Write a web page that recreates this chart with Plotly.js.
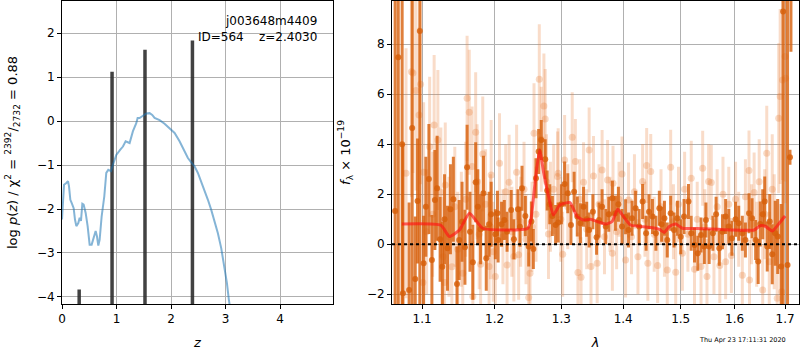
<!DOCTYPE html>
<html>
<head>
<meta charset="utf-8">
<script src="https://cdn.plot.ly/plotly-3.0.1.min.js"></script>
<style>html,body{margin:0;padding:0;background:#fff;}#chart{width:800px;height:350px;}</style>
</head>
<body>
<div id="chart"></div>
<script>
// ---------- Left panel: log p(z) ----------
const zGrid = [0.0,0.037,0.079,0.110,0.128,0.153,0.177,0.214,0.238,0.263,0.299,0.324,0.348,0.373,0.397,0.434,0.470,0.507,0.544,0.580,0.617,0.641,0.666,0.690,0.727,0.776,0.812,0.849,0.898,0.935,0.996,1.069,1.118,1.167,1.203,1.240,1.301,1.362,1.387,1.423,1.484,1.546,1.607,1.655,1.698,1.790,1.881,1.973,2.065,2.156,2.248,2.309,2.370,2.431,2.492,2.553,2.615,2.676,2.737,2.798,2.859,2.920,2.981,3.024,3.060,3.073];
const logP = [-2.24,-1.45,-1.41,-1.37,-1.48,-1.79,-1.86,-1.98,-2.24,-2.39,-2.32,-2.20,-2.27,-1.88,-1.90,-2.09,-2.39,-2.81,-2.81,-2.62,-2.50,-2.62,-2.83,-2.70,-2.17,-1.71,-1.18,-1.11,-1.14,-0.99,-0.77,-0.65,-0.58,-0.46,-0.48,-0.50,-0.23,-0.05,0.07,0.07,0.12,0.17,0.18,0.14,0.07,0.02,-0.06,-0.16,-0.27,-0.46,-0.69,-0.84,-0.94,-1.03,-1.18,-1.37,-1.60,-1.79,-2.02,-2.28,-2.55,-2.89,-3.30,-3.68,-4.06,-4.17];
const peakZ = [0.315, 0.918, 1.522, 2.392];
const peakTop = [-3.83, 1.12, 1.62, 1.83];
const peakFloor = -10;

// ---------- Right panel: spectrum ----------
const darkWave = [1.065,1.069,1.074,1.075,1.083,1.087,1.091,1.094,1.097,
 1.102,1.105,1.109,1.113,1.117,1.120,1.124,1.127,1.130,1.134,1.138,1.142,1.147,1.150,1.154,1.158,1.161,1.165,1.169,1.173,1.176,1.180,1.184,1.188,1.192,1.195,
 1.201,1.204,1.205,1.210,1.214,1.218,1.224,1.228,1.234,1.237,1.240,1.245,1.250,1.254,1.257,1.261,1.265,1.269,1.275,1.278,1.282,1.286,1.291,1.295,
 1.300,1.305,1.310,1.315,1.320,1.325,1.330,1.335,1.340,1.344,1.350,1.356,1.360,1.365,1.371,1.376,1.382,1.387,1.392,1.398,
 1.404,1.409,1.415,1.421,1.427,1.433,1.439,1.444,1.450,1.456,1.462,1.466,1.471,1.476,1.482,1.488,1.494,
 1.500,1.506,1.514,1.519,1.525,1.531,1.537,1.543,1.546,1.552,1.559,1.565,1.571,1.577,1.583,1.589,1.595,
 1.602,1.608,1.615,1.621,1.628,1.634,1.641,1.646,1.650,1.655,1.659,1.664,1.669,1.674,1.680,1.685,1.692,1.696,1.705,1.710,1.712];
const darkFlux = [1.33,7.48,4.00,-1.96,-1.83,4.65,-1.39,1.73,8.53,
 -0.76,1.50,2.61,-0.63,1.77,2.24,0.20,-0.90,1.00,-0.16,1.40,1.80,-1.59,0.17,0.90,-0.12,3.08,0.50,-0.72,2.48,1.50,0.60,2.04,-0.56,0.80,1.20,
 0.40,1.24,0.17,0.80,0.97,0.50,1.37,0.20,1.40,0.70,2.24,1.13,-0.09,0.91,-0.19,2.64,3.71,4.17,3.40,2.15,1.60,1.13,0.77,0.87,
 1.60,2.41,2.04,0.77,2.10,1.11,0.84,1.50,1.00,0.57,1.30,0.28,0.97,1.50,0.71,1.20,1.84,1.24,1.60,0.71,
 1.10,0.57,1.04,1.44,0.71,1.71,0.44,1.30,1.11,0.44,1.44,0.80,1.04,0.17,1.24,0.57,1.04,
 0.30,1.11,1.71,0.44,-0.03,-0.36,0.37,-0.09,0.97,-0.09,0.44,1.20,-0.16,0.50,1.11,0.71,0.24,
 1.00,0.84,0.44,0.17,1.24,1.04,0.17,-0.69,0.81,1.20,1.71,-0.09,0.91,-0.40,0.44,0.31,-0.89,9.31,-0.83,3.48,18.0];
const darkErr = [20,20,8,6,3.5,12,2.5,2.5,12,
 1.9,2.0,2.2,1.8,2.0,2.1,1.7,1.8,1.8,1.7,1.8,1.7,1.5,1.6,1.6,1.5,1.7,1.6,1.5,1.6,1.5,1.4,1.5,1.3,1.3,1.3,
 1.0,0.9,0.9,0.9,0.8,0.8,0.8,0.8,0.8,0.8,0.9,0.8,0.8,0.8,0.8,0.8,0.9,0.8,0.8,0.8,0.8,0.8,0.8,0.8,
 0.8,0.9,0.8,0.8,0.8,0.8,0.8,0.8,0.7,0.7,0.7,0.7,0.7,0.7,0.7,0.7,0.7,0.7,0.7,0.7,
 0.7,0.7,0.7,0.7,0.7,0.7,0.7,0.7,0.7,0.7,0.7,0.7,0.7,0.7,0.7,0.7,0.7,
 0.7,0.7,0.7,0.7,0.7,0.7,0.7,0.7,0.7,0.7,0.7,0.7,0.7,0.7,0.7,0.7,0.7,
 0.7,0.7,0.7,0.7,0.8,0.8,0.8,0.9,0.9,1.0,1.0,1.0,1.1,1.2,1.3,1.5,2.5,20,20,0.3,10.3];

const lightWave = [1.079,1.086,1.088,1.092,1.096,1.098,
 1.101,1.102,1.106,1.110,1.114,1.116,1.121,1.125,1.128,1.130,1.131,1.136,1.140,1.144,1.148,1.153,1.155,1.159,1.161,1.164,1.168,1.169,1.173,1.175,1.178,1.180,1.183,1.187,1.192,1.194,1.195,1.198,
 1.201,1.207,1.212,1.216,1.218,1.221,1.225,1.228,1.232,1.235,1.238,1.243,1.246,1.250,1.252,1.255,1.258,1.261,1.266,1.269,1.273,1.275,1.277,1.280,1.283,1.288,1.294,1.295,1.299,
 1.302,1.305,1.310,1.317,1.322,1.326,1.329,1.331,1.335,1.340,1.344,1.347,1.351,1.357,1.360,1.365,1.369,1.374,1.378,1.382,1.383,1.389,1.393,1.398,
 1.404,1.409,1.414,1.419,1.425,1.433,1.437,1.440,1.442,1.447,1.453,1.459,1.465,1.471,1.476,1.482,1.487,1.491,1.496,
 1.503,1.507,1.513,1.519,1.525,1.530,1.537,1.540,1.544,1.548,1.551,1.556,1.561,1.567,1.572,1.578,1.583,1.589,1.594,
 1.602,1.608,1.615,1.621,1.628,1.629,1.633,1.638,1.643,1.648,1.655,1.659,1.663,1.668,1.674,1.678,1.684,1.687,1.690,1.693,1.695,1.700,1.701];
const lightFlux = [2.84,6.90,6.85,6.15,5.17,6.40,
 -1.53,2.88,0.50,3.90,1.20,4.77,4.17,2.07,-0.50,-1.53,2.37,0.30,-0.90,1.50,-0.20,0.60,-1.16,1.80,5.84,5.28,3.11,-2.09,4.48,2.50,0.40,-0.80,3.61,1.60,-0.89,0.70,2.77,-0.30,
 -1.29,3.24,0.30,2.10,-0.83,2.48,0.50,-0.49,2.88,-0.42,0.90,2.20,0.20,-2.13,-1.16,0.70,4.44,1.20,6.60,4.20,5.53,5.01,2.50,0.41,1.50,2.20,2.71,2.84,1.00,
 -0.40,3.37,1.50,4.28,3.31,-1.13,1.80,-1.32,2.48,0.60,3.77,-0.89,2.73,-0.76,1.60,2.97,0.30,2.57,1.20,-0.36,2.44,0.50,1.80,2.81,
 -0.63,1.77,0.30,2.10,-0.50,2.51,1.00,3.15,-0.76,2.91,0.40,-0.85,1.50,0.20,-1.03,3.08,0.90,-1.12,1.60,
 -0.36,2.20,0.40,2.64,-1.00,1.00,-0.89,3.04,0.70,-1.29,2.51,2.47,-0.50,1.50,-0.85,2.00,-0.70,1.60,-0.45,
 1.80,0.60,-1.24,1.90,2.95,-1.43,0.80,2.07,0.00,2.50,-1.83,1.20,3.64,-0.70,2.20,0.50,-2.16,5.04,5.91,-1.90,6.57,7.51,6.64];
const lightErr = [5,5,4,4,3.5,4,
 2.5,2.8,2.5,2.8,2.5,2.8,2.8,2.6,2.4,2.2,2.5,2.4,2.3,2.4,2.3,2.3,2.2,2.3,2.5,2.5,2.4,2.2,2.4,2.3,2.2,2.2,2.3,2.2,2.1,2.1,2.2,2.0,
 2.0,2.0,1.9,1.9,1.8,1.9,1.8,1.8,1.9,1.8,1.8,1.9,1.8,1.8,1.8,1.8,2.0,1.9,2.2,2.1,2.1,2.0,1.9,1.8,1.8,1.8,1.8,1.8,1.7,
 1.7,1.8,1.7,1.8,1.7,1.6,1.6,1.6,1.6,1.6,1.7,1.6,1.6,1.6,1.6,1.6,1.5,1.6,1.5,1.5,1.5,1.5,1.5,1.5,
 1.5,1.5,1.5,1.5,1.5,1.5,1.5,1.5,1.5,1.5,1.5,1.5,1.5,1.5,1.5,1.5,1.5,1.5,1.5,
 1.5,1.5,1.5,1.5,1.5,1.5,1.5,1.5,1.5,1.5,1.5,1.5,1.5,1.5,1.5,1.5,1.5,1.5,1.5,
 1.5,1.5,1.5,1.5,1.6,1.6,1.6,1.6,1.7,1.7,1.8,1.8,1.9,2.0,2.2,2.3,2.5,3,3.5,3,4,5,5];

const modelWave = [1.0736,1.125,1.1365,1.1504,1.1643,1.1829,1.2483,1.2532,1.2606,1.2665,1.2728,1.2802,1.2876,1.2975,1.3135,1.3245,1.3352,1.3462,1.3571,1.3707,1.3816,1.3907,1.4005,1.4123,1.4474,1.4619,1.4707,1.4795,1.4912,1.5031,1.5309,1.5926,1.6378,1.651,1.6608,1.674,1.6869,1.70];
const modelFlux = [0.81,0.76,0.31,0.57,1.24,0.64,0.63,0.97,2.71,3.77,2.84,1.91,1.17,1.57,1.67,1.11,0.97,1.00,0.91,0.81,0.91,1.40,1.11,0.77,0.67,0.60,0.47,0.71,0.81,0.64,0.63,0.57,0.57,0.75,0.71,0.53,0.81,1.13];

const waveTicks = [1.1,1.2,1.3,1.4,1.5,1.6,1.7];
const waveTickText = ['1.1','1.2','1.3','1.4','1.5','1.6','1.7'];
const zeroLevel = 0;

// peak segments
const px = [], py = [];
for (let i = 0; i < peakZ.length; i++) { px.push(peakZ[i], peakZ[i], null); py.push(peakFloor, peakTop[i], null); }

const traces = [
  {x: px, y: py, xaxis:'x', yaxis:'y', mode:'lines', line:{color:'rgba(45,45,45,0.9)', width:3.5}, hoverinfo:'skip'},
  {x: zGrid, y: logP, xaxis:'x', yaxis:'y', mode:'lines', line:{color:'rgba(31,119,180,0.55)', width:2}},
  {x: lightWave, y: lightFlux, xaxis:'x2', yaxis:'y2', mode:'markers',
   marker:{color:'rgba(232,128,60,0.3)', size:7},
   error_y:{type:'data', array: lightErr, color:'rgba(232,128,60,0.28)', thickness:3, width:0}},
  {x: darkWave, y: darkFlux, xaxis:'x2', yaxis:'y2', mode:'markers',
   marker:{color:'rgba(215,95,10,0.82)', size:6},
   error_y:{type:'data', array: darkErr, color:'rgba(215,95,10,0.8)', thickness:3, width:0}},
  {x: modelWave, y: modelFlux, xaxis:'x2', yaxis:'y2', mode:'lines', line:{color:'rgba(255,20,20,0.65)', width:3, shape:'spline', smoothing:0.5}}
];

const axisCommon = {
  showline:true, mirror:true, linecolor:'black', linewidth:1,
  ticks:'outside', ticklen:4, tickcolor:'black', tickwidth:1,
  showgrid:true, gridcolor:'#b0b0b0', gridwidth:1, zeroline:false,
  tickfont:{family:'DejaVu Sans', size:12, color:'black'}, automargin:false
};

const layout = {
  width:800, height:350,
  margin:{l:0, r:0, t:1, b:46},
  paper_bgcolor:'white', plot_bgcolor:'white',
  showlegend:false,
  font:{family:'DejaVu Sans', size:12, color:'black'},
  xaxis: Object.assign({}, axisCommon, {domain:[0.0775,0.41625], range:[0,4.97], tick0:0, dtick:1, anchor:'y',
    title:{text:'<i>z</i>', font:{size:13}, standoff:12}}),
  yaxis: Object.assign({}, axisCommon, {domain:[0,1], range:[-4.16,2.73], tick0:0, dtick:1, anchor:'x',
    title:{text:'log <i>p</i>(<i>z</i>) / χ<sup>2</sup> = <sup>2392</sup>/<sub>2732</sub> = 0.88', font:{size:13}, standoff:16}}),
  xaxis2: Object.assign({}, axisCommon, {domain:[0.49,0.99875], type:'log', range:[Math.log10(1.061), Math.log10(1.7286)],
    tickmode:'array', tickvals: waveTicks, ticktext: waveTickText, anchor:'y2',
    title:{text:'<i>λ</i>', font:{size:13}, standoff:12}}),
  yaxis2: Object.assign({}, axisCommon, {domain:[0,1], range:[-2.39,9.73], tick0:0, dtick:2, anchor:'x2',
    title:{text:'<i>f</i><sub>λ</sub> × 10<sup>−19</sup>', font:{size:13}, standoff:13}}),
  shapes:[
    {type:'line', xref:'x2 domain', x0:0, x1:1, yref:'y2', y0:zeroLevel, y1:zeroLevel, layer:'above',
     line:{color:'black', width:2, dash:'dot'}}
  ],
  annotations:[
    {xref:'paper', yref:'paper', x:0.39875, y:0.965, xanchor:'right', yanchor:'top', align:'right', showarrow:false,
     text:'j003648m4409<br>ID=564\u00a0\u00a0\u00a0\u00a0z=2.4030', font:{family:'DejaVu Sans', size:12, color:'black'}},
    {xref:'paper', yref:'paper', x:0.9275, y:-0.119, xanchor:'center', yanchor:'middle', showarrow:false,
     text:'Thu Apr 23 17:11:31 2020', font:{family:'DejaVu Sans', size:6.5, color:'black'}}
  ]
};

Plotly.newPlot('chart', traces, layout, {staticPlot:true, displayModeBar:false});
</script>
</body>
</html>
